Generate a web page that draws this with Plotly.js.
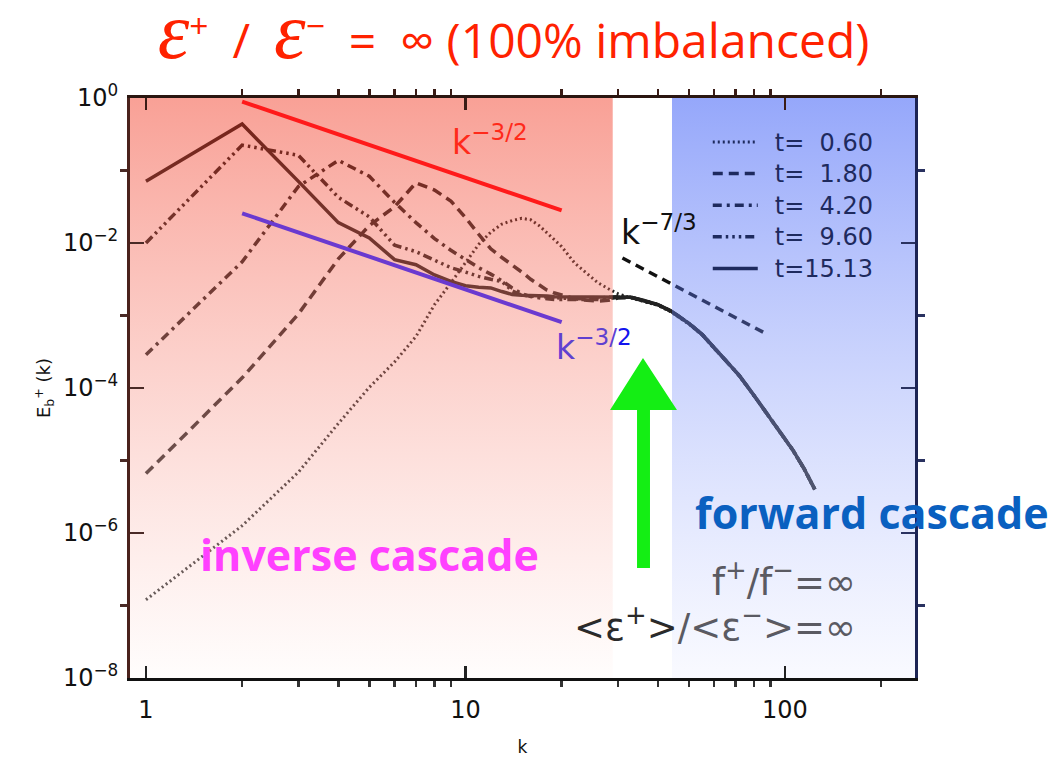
<!DOCTYPE html>
<html>
<head>
<meta charset="utf-8">
<script src="https://cdn.plot.ly/plotly-3.0.1.min.js"></script>
<style>
  html, body { margin: 0; padding: 0; background: #ffffff; }
  #chart { width: 1059px; height: 757px; }
</style>
</head>
<body>
<div id="chart"></div>
<script>
// Wavenumbers at which the spectra are sampled
const kGrid = [1, 2, 3, 4, 5, 6, 7, 8, 9, 10, 11, 12, 13, 14, 15, 16, 17, 18, 19, 20,
               22, 24, 26, 28, 30, 33, 36, 40, 44, 50, 55, 60, 66, 72, 80, 88, 96, 106, 115, 124];

// E_b^+(k) at each output time
const E_t060 = [1.2e-7, 1.26e-6, 6.9e-6, 3.24e-5, 1.02e-4, 2.29e-4, 5.13e-4, 1.41e-3, 2.82e-3, 5.37e-3,
                9.55e-3, 1.41e-2, 1.82e-2, 2.04e-2, 2.19e-2, 2.09e-2, 1.74e-2, 1.38e-2, 1.12e-2, 8.91e-3,
                5.25e-3, 3.8e-3, 2.82e-3, 2.34e-3, 2.0e-3, 1.74e-3, 1.58e-3, 1.38e-3, 1.12e-3, 7.6e-4,
                5.4e-4, 3.5e-4, 2.29e-4, 1.45e-4, 7.8e-5, 4.3e-5, 2.5e-5, 1.35e-5, 7.4e-6, 3.9e-6];
const E_t180 = [6.6e-6, 1.38e-4, 1.05e-3, 6.03e-3, 1.74e-2, 3.16e-2, 6.76e-2, 5.37e-2, 3.8e-2, 2.24e-2,
                1.32e-2, 8.32e-3, 6.31e-3, 5.01e-3, 3.98e-3, 3.16e-3, 2.63e-3, 2.24e-3, 2.04e-3, 1.91e-3,
                1.7e-3, 1.62e-3, 1.58e-3, 1.62e-3, 1.74e-3, 1.78e-3, 1.62e-3, 1.41e-3, 1.15e-3, 7.8e-4,
                5.5e-4, 3.6e-4, 2.34e-4, 1.48e-4, 7.9e-5, 4.4e-5, 2.57e-5, 1.38e-5, 7.6e-6, 4.0e-6];
const E_t420 = [2.88e-4, 5.5e-3, 6.03e-2, 0.138, 8.32e-2, 3.63e-2, 1.91e-2, 1.15e-2, 7.94e-3, 5.89e-3,
                4.57e-3, 3.72e-3, 3.02e-3, 2.4e-3, 2.0e-3, 1.82e-3, 1.74e-3, 1.7e-3, 1.66e-3, 1.66e-3,
                1.62e-3, 1.62e-3, 1.66e-3, 1.7e-3, 1.78e-3, 1.78e-3, 1.62e-3, 1.41e-3, 1.15e-3, 7.8e-4,
                5.5e-4, 3.6e-4, 2.34e-4, 1.48e-4, 7.9e-5, 4.4e-5, 2.57e-5, 1.38e-5, 7.6e-6, 4.0e-6];
const E_t960 = [1.0e-2, 0.224, 0.162, 4.27e-2, 2.29e-2, 9.33e-3, 7.59e-3, 5.89e-3, 4.57e-3, 3.98e-3,
                3.47e-3, 3.16e-3, 2.95e-3, 2.19e-3, 1.91e-3, 1.86e-3, 1.82e-3, 1.78e-3, 1.74e-3, 1.74e-3,
                1.7e-3, 1.7e-3, 1.74e-3, 1.78e-3, 1.82e-3, 1.78e-3, 1.62e-3, 1.41e-3, 1.15e-3, 7.8e-4,
                5.5e-4, 3.6e-4, 2.34e-4, 1.48e-4, 7.9e-5, 4.4e-5, 2.57e-5, 1.38e-5, 7.6e-6, 4.0e-6];
const E_t1513 = [7.08e-2, 0.437, 7.08e-2, 1.91e-2, 1.175e-2, 5.89e-3, 5.01e-3, 3.63e-3, 2.95e-3, 2.57e-3,
                 2.45e-3, 2.4e-3, 2.14e-3, 1.95e-3, 1.91e-3, 1.91e-3, 1.86e-3, 1.86e-3, 1.82e-3, 1.82e-3,
                 1.78e-3, 1.78e-3, 1.82e-3, 1.82e-3, 1.82e-3, 1.78e-3, 1.62e-3, 1.41e-3, 1.15e-3, 7.8e-4,
                 5.5e-4, 3.6e-4, 2.34e-4, 1.48e-4, 7.9e-5, 4.4e-5, 2.57e-5, 1.38e-5, 7.6e-6, 4.0e-6];

// legend labels (figure spaces keep the digits aligned)
const seriesNames = ['t=\u20070.60', 't=\u20071.80', 't=\u20074.20', 't=\u20079.60', 't=15.13'];

// Power-law guide lines
const guideK = [2, 20];
const guideUpper = [0.89, 0.0281];          // k^-3/2
const guideLower = [0.0257, 8.1e-4];        // k^-3/2
const guideFwdK = [31, 86];
const guideFwd = [6.2e-3, 5.8e-4];          // k^-7/3

// Inverse / forward cascade bands
const inverseBand = [0.89, 28.9];
const forwardBand = [44.3, 260];
const bandE = [1e-8, 1];

// Axis ticks
const xTickVals = [1, 10, 100];
const xTickText = ['1', '10', '100'];
const xMinorVals = [2, 3, 4, 5, 6, 7, 8, 9, 20, 30, 40, 50, 60, 70, 80, 90, 200];
const yTickVals = [1, 1e-2, 1e-4, 1e-6, 1e-8];
const yTickText = ['10<sup>0</sup>', '10<sup>\u22122</sup>', '10<sup>\u22124</sup>', '10<sup>\u22126</sup>', '10<sup>\u22128</sup>'];
const yMinorVals = [1e-1, 1e-3, 1e-5, 1e-7];

const curveColor = '#222222';
const dashes = ['2px,3px', '10px,6px', '9px,5px,3px,5px', '9px,4px,2.5px,4px,2.5px,4px,2.5px,4px', 'solid'];
const widths = [3, 3.5, 3.5, 3.5, 3.5];
const spectra = [E_t060, E_t180, E_t420, E_t960, E_t1513];

const traces = spectra.map((E, i) => ({
  type: 'scatter', mode: 'lines', x: kGrid, y: E,
  name: '<span style="font-size:24px">\u2002' + seriesNames[i] + '</span>',
  line: { color: curveColor, width: widths[i], dash: dashes[i] },
  hoverinfo: 'skip'
}));

traces.push({
  type: 'scatter', mode: 'lines', x: guideFwdK, y: guideFwd, showlegend: false,
  line: { color: '#111111', width: 3.5, dash: '9px,6px' }, hoverinfo: 'skip'
});

function band(xr, scale) {
  return {
    type: 'scatter', mode: 'none', fill: 'toself', showlegend: false, hoverinfo: 'skip',
    x: [xr[0], xr[1], xr[1], xr[0]], y: [bandE[0], bandE[0], bandE[1], bandE[1]],
    fillgradient: { type: 'vertical', colorscale: scale }
  };
}
traces.push(band(inverseBand, [[0, 'rgba(255,248,246,0.3)'], [1, 'rgba(240,30,5,0.42)']]));
traces.push(band(forwardBand, [[0, 'rgba(235,238,255,0.3)'], [1, 'rgba(20,60,245,0.45)']]));

traces.push({
  type: 'scatter', mode: 'lines', x: guideK, y: guideUpper, showlegend: false,
  line: { color: '#ff1a1a', width: 4 }, hoverinfo: 'skip'
});
traces.push({
  type: 'scatter', mode: 'lines', x: guideK, y: guideLower, showlegend: false,
  line: { color: '#6a3ad0', width: 4 }, hoverinfo: 'skip'
});
// carries the top and right frame axes
traces.push({ type: 'scatter', x: [null], y: [null], xaxis: 'x2', yaxis: 'y2', showlegend: false, hoverinfo: 'skip' });

const xRange = [-0.05, 2.407];
const yRange = [-8, 0];
const tickFont = { family: 'DejaVu Sans', size: 24, color: '#111111' };
const epsSpan = '<span style="font-family:\'Liberation Serif\';font-style:italic;font-size:80px">\u03b5</span>';
const gap = '\u2002';

const layout = {
  width: 1059, height: 757,
  margin: { l: 130, r: 144, t: 98, b: 79 },
  paper_bgcolor: '#ffffff', plot_bgcolor: '#ffffff',
  title: {
    text: epsSpan + '<sup>+</sup>' + gap + '/' + gap + epsSpan + '<sup>\u2212</sup>' + gap + '=' + gap + '\u221e (100% imbalanced)',
    x: 0.485, xanchor: 'center', y: 0.945, yanchor: 'middle',
    font: { family: 'Open Sans', size: 48, color: '#ff2200' }
  },
  showlegend: true,
  legend: {
    x: 0.736, y: 0.960, xanchor: 'left', yanchor: 'top',
    bgcolor: 'rgba(0,0,0,0)', borderwidth: 0,
    font: { family: 'DejaVu Sans', size: 22, color: '#1e2a5e' },
    itemwidth: 45, tracegroupgap: 0
  },
  xaxis: {
    type: 'log', range: xRange, showgrid: false, zeroline: false,
    showline: true, linecolor: '#111111', linewidth: 3,
    ticks: 'inside', ticklen: 12, tickwidth: 2.5, tickcolor: '#222222',
    tickvals: xTickVals, ticktext: xTickText, tickfont: tickFont, ticklabelstandoff: 8,
    minor: { tickvals: xMinorVals, ticklen: 6, tickwidth: 2.5, tickcolor: '#333333', showgrid: false },
    title: { text: 'k', font: { family: 'DejaVu Sans', size: 17, color: '#111111' }, standoff: 22 }
  },
  yaxis: {
    type: 'log', range: yRange, showgrid: false, zeroline: false,
    showline: true, linecolor: '#4a221c', linewidth: 3,
    ticks: 'inside', ticklen: 14, tickwidth: 2.5, tickcolor: '#4a2a26',
    tickvals: yTickVals, ticktext: yTickText, tickfont: tickFont, ticklabelstandoff: 4,
    minor: { tickvals: yMinorVals, ticklen: 7, tickwidth: 2.5, tickcolor: '#4a2a26', showgrid: false },
    title: { text: 'E<sub>b</sub><sup>+</sup> (k)', font: { family: 'DejaVu Sans', size: 18, color: '#111111' }, standoff: 8 }
  },
  xaxis2: {
    type: 'log', range: xRange, overlaying: 'x', side: 'top', anchor: 'y2',
    showgrid: false, zeroline: false, showline: true, linecolor: '#2a1610', linewidth: 3,
    ticks: 'inside', ticklen: 12, tickwidth: 2.5, tickcolor: '#3a1c16',
    tickvals: xTickVals, showticklabels: false,
    minor: { tickvals: xMinorVals, ticklen: 6, tickwidth: 2.5, tickcolor: '#3a1c16', showgrid: false }
  },
  yaxis2: {
    type: 'log', range: yRange, overlaying: 'y', side: 'right', anchor: 'x2',
    showgrid: false, zeroline: false, showline: true, linecolor: '#1c2454', linewidth: 3,
    ticks: 'inside', ticklen: 14, tickwidth: 2.5, tickcolor: '#2a3260',
    tickvals: yTickVals, showticklabels: false,
    minor: { tickvals: yMinorVals, ticklen: 7, tickwidth: 2.5, tickcolor: '#2a3260', showgrid: false }
  },
  shapes: [{
    type: 'path', xref: 'paper', yref: 'paper', layer: 'above',
    path: 'M0.6535,0.5517 L0.6968,0.4621 L0.6624,0.4621 L0.6624,0.1897 L0.6459,0.1897 L0.6459,0.4621 L0.6115,0.4621 Z',
    fillcolor: '#14ee14', line: { width: 0 }
  }],
  annotations: [
    { xref: 'paper', yref: 'paper', x: 0.408, y: 0.926, xanchor: 'left', yanchor: 'middle', showarrow: false,
      text: 'k<sup>\u22123/2</sup>', font: { family: 'DejaVu Sans', size: 33, color: '#ff2a1a' } },
    { xref: 'paper', yref: 'paper', x: 0.540, y: 0.574, xanchor: 'left', yanchor: 'middle', showarrow: false,
      text: 'k<sup>\u22123/<span style="color:#1414ee">2</span></sup>', font: { family: 'DejaVu Sans', size: 33, color: '#6040d0' } },
    { xref: 'paper', yref: 'paper', x: 0.6225, y: 0.772, xanchor: 'left', yanchor: 'middle', showarrow: false,
      text: 'k<sup>\u22127/3</sup>', font: { family: 'DejaVu Sans', size: 33, color: '#111111' } },
    { xref: 'paper', yref: 'paper', x: 0.3057, y: 0.2121, xanchor: 'center', yanchor: 'middle', showarrow: false,
      text: '<b>inverse cascade</b>', font: { family: 'Open Sans', size: 43, color: '#ff40ff' } },
    { xref: 'paper', yref: 'paper', x: 0.9452, y: 0.2862, xanchor: 'center', yanchor: 'middle', showarrow: false,
      text: '<b>forward cascade</b>', font: { family: 'Open Sans', size: 43, color: '#0a60c0' } },
    { xref: 'paper', yref: 'paper', x: 0.9274, y: 0.169, xanchor: 'right', yanchor: 'middle', showarrow: false,
      text: 'f<sup>+</sup>/f<sup>\u2212</sup>=\u221e', font: { family: 'DejaVu Sans', size: 37, color: '#5a5a62' } },
    { xref: 'paper', yref: 'paper', x: 0.9274, y: 0.0914, xanchor: 'right', yanchor: 'middle', showarrow: false,
      text: '<span style="color:#2a2a2a">&lt;\u03b5<sup>+</sup>&gt;</span>/&lt;\u03b5<sup>\u2212</sup>&gt;=\u221e',
      font: { family: 'DejaVu Sans', size: 37, color: '#5a5a62' } }
  ]
};

Plotly.newPlot('chart', traces, layout, { displayModeBar: false, staticPlot: true }).then(() => {
  // legend samples in the same navy as the legend text
  document.querySelectorAll('#chart .legend .legendlines path').forEach(p => { p.style.stroke = '#1e2a5e'; });
});
</script>
</body>
</html>
